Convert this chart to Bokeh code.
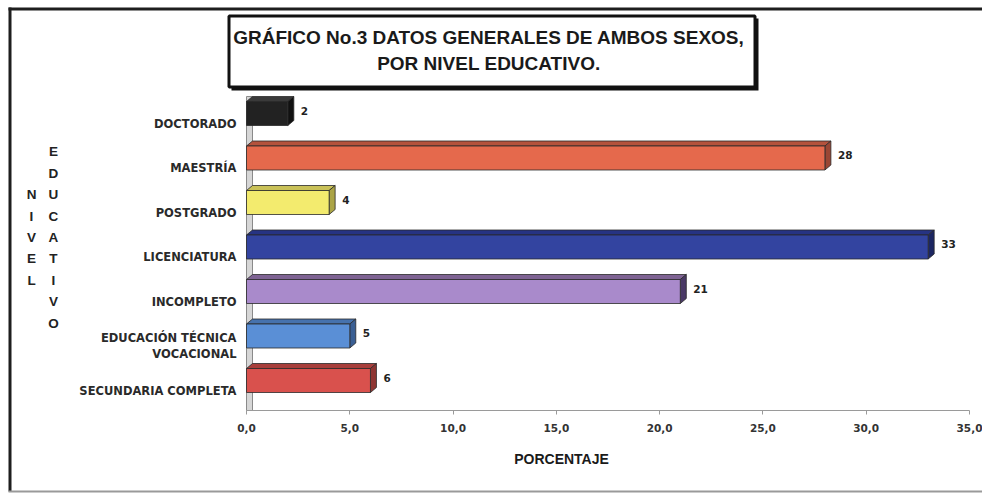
from bokeh.plotting import figure
from bokeh.models import Range1d, FixedTicker, Label, PolyAnnotation
from bokeh.core.properties import value
from bokeh.embed import file_html
from bokeh.resources import INLINE

# ---- data (bottom to top) ----
categories = [
    "SECUNDARIA COMPLETA",
    "EDUCACIÓN TÉCNICA\nVOCACIONAL",
    "INCOMPLETO",
    "LICENCIATURA",
    "POSTGRADO",
    "MAESTRÍA",
    "DOCTORADO",
]
values = [6, 5, 21, 33, 4, 28, 2]

front_colors = ["#D9514D", "#5A8FD6", "#A98ACB", "#3344A0", "#F3EB6E", "#E5694C", "#222222"]
top_colors = ["#A83E3B", "#4672AD", "#7E6393", "#263383", "#C9C158", "#B4523C", "#3a3a3a"]
side_colors = ["#8E3431", "#3A5F94", "#4A3966", "#1C2662", "#ABA446", "#9A4634", "#111111"]

x_ticks = [0, 5, 10, 15, 20, 25, 30, 35]
x_tick_labels = ["0,0", "5,0", "10,0", "15,0", "20,0", "25,0", "30,0", "35,0"]

title_text = "GRÁFICO No.3  DATOS GENERALES DE AMBOS SEXOS,\nPOR  NIVEL EDUCATIVO."
x_title = "PORCENTAJE"
y_title_left = "NIVEL"
y_title_right = "EDUCATIVO"

# ---- geometry (pixels) ----
W, H = 982, 495
AX_L, AX_R, AX_B = 246, 969, 410     # where 0 %, 35 % and the category floor sit
X_MAX = 35
XS = (AX_R - AX_L) / X_MAX            # px per percent
YS = 44.5                             # px per category slot
Y_FLOOR = -20 / YS                    # data y of the floor line

BAR_SHIFT = 10 / YS    # bars sit a little above their tick labels
HALF = 12 / YS         # half height of the front face
DX = 6 / XS            # 3D depth
DY = 5 / YS


def xd(px):
    return (px - AX_L) / XS


def yd(py):
    return Y_FLOOR + (AX_B - py) / YS


def rect(x0, y0, x1, y1, **kw):
    """Filled rectangle given in canvas pixels."""
    return PolyAnnotation(xs=[xd(x0), xd(x1), xd(x1), xd(x0)],
                          ys=[yd(y0), yd(y0), yd(y1), yd(y1)], **kw)


# the plotting area fills the whole canvas; axes are pinned inside it
p = figure(
    width=W, height=H,
    x_range=Range1d(xd(0), xd(W)), y_range=Range1d(yd(H), yd(0)),
    min_border=0, min_border_left=0, min_border_right=0,
    min_border_top=0, min_border_bottom=0,
    output_backend="svg", toolbar_location=None,
)
p.grid.visible = False
p.outline_line_color = None
p.background_fill_color = "white"
p.border_fill_color = "white"

# ---- outer frame (open on the right) ----
p.add_layout(rect(8, 7, W, 10, fill_color="#1e1e1e", fill_alpha=1, line_color=None))
p.add_layout(rect(8, 7, 11, 491, fill_color="#1e1e1e", fill_alpha=1, line_color=None))
p.add_layout(rect(8, 490, W, 492, fill_color="#9a9a9a", fill_alpha=1, line_color=None))

# ---- title box with drop shadow ----
p.add_layout(rect(231, 18, 758, 90, fill_color="#111111", fill_alpha=1, line_color=None))
p.add_layout(rect(228.5, 15.5, 754.5, 86.5, fill_color="white", fill_alpha=1,
                  line_color="#111111", line_alpha=1, line_width=3))
p.add_layout(Label(
    x=xd(491), y=yd(50), text=title_text,
    text_align="center", text_baseline="middle", text_line_height=1.22,
    text_font="Liberation Sans", text_font_style="bold", text_font_size="19px",
    text_color="#1a1a1a",
))

# ---- stacked vertical axis title ----
for col_x, word in [(31, y_title_left), (53, y_title_right)]:
    p.add_layout(Label(
        x=xd(col_x), y=yd(237), text="\n".join(word),
        text_align="center", text_baseline="middle", text_line_height=1.43,
        text_font="Liberation Sans", text_font_style="bold", text_font_size="13.5px",
        text_color="#222222",
    ))

p.add_layout(Label(
    x=xd(561), y=yd(458), text=x_title,
    text_align="center", text_baseline="middle",
    text_font="Liberation Sans", text_font_style="bold", text_font_size="14px",
    text_color="#1a1a1a",
))

# ---- back wall ----
p.quad(left=0, right=DX, bottom=Y_FLOOR, top=6 + BAR_SHIFT + HALF + DY,
       fill_color="#d6d6d6", line_color="#8a8a8a", line_width=1)

# ---- 3D bars ----
centers = [i + BAR_SHIFT for i in range(len(values))]
edge = "#2a2a2a"

top_xs = [[0, v, v + DX, DX] for v in values]
top_ys = [[c + HALF, c + HALF, c + HALF + DY, c + HALF + DY] for c in centers]
p.patches(top_xs, top_ys, fill_color=top_colors, line_color=edge, line_width=0.8)

side_xs = [[v, v + DX, v + DX, v] for v in values]
side_ys = [[c - HALF, c - HALF + DY, c + HALF + DY, c + HALF] for c in centers]
p.patches(side_xs, side_ys, fill_color=side_colors, line_color=edge, line_width=0.8)

p.quad(left=0, right=values,
       bottom=[c - HALF for c in centers], top=[c + HALF for c in centers],
       fill_color=front_colors, line_color=edge, line_width=0.8)

# value labels
p.text(x=[v + DX + 7 / XS for v in values], y=[c + 3 / YS for c in centers],
       text=[str(v) for v in values],
       text_font=value("DejaVu Sans"), text_font_style="bold", text_font_size="10.5px",
       text_align="left", text_baseline="middle", text_color="#222222")

# ---- axes, pinned at 0 % and at the floor ----
ya = p.yaxis[0]
ya.fixed_location = 0
ya.ticker = FixedTicker(ticks=list(range(len(categories))))
ya.major_label_overrides = {i: c for i, c in enumerate(categories)}
ya.axis_line_color = None
ya.major_tick_line_color = None
ya.minor_tick_line_color = None
ya.major_tick_out = 0
ya.major_tick_in = 0
ya.major_label_standoff = 10
ya.major_label_text_font = "DejaVu Sans"
ya.major_label_text_font_style = "bold"
ya.major_label_text_font_size = "11.5px"
ya.major_label_text_color = "#2a2a2a"

xa = p.xaxis[0]
xa.fixed_location = Y_FLOOR
xa.bounds = (0, X_MAX)
xa.ticker = FixedTicker(ticks=x_ticks)
xa.major_label_overrides = {t: s for t, s in zip(x_ticks, x_tick_labels)}
xa.axis_line_color = "#9a9a9a"
xa.major_tick_line_color = "#9a9a9a"
xa.minor_tick_line_color = None
xa.major_tick_out = 4
xa.major_tick_in = 0
xa.major_label_standoff = 9
xa.major_label_text_font = "DejaVu Sans"
xa.major_label_text_font_style = "bold"
xa.major_label_text_font_size = "10.5px"
xa.major_label_text_color = "#333333"

open("out.html", "w").write(file_html(p, INLINE))
